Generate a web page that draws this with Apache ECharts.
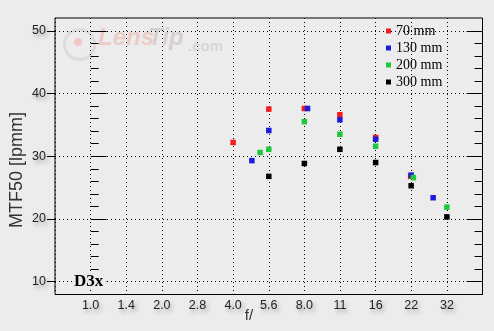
<!DOCTYPE html>
<html><head><meta charset="utf-8">
<script src="https://cdn.jsdelivr.net/npm/echarts@6/dist/echarts.min.js"></script>
<style>html,body{margin:0;padding:0;background:#ececec}#c{width:494px;height:331px}</style>
</head><body><div id="c"></div>
<script>
// f-stop tick labels (equal spacing, 1/2-stop steps of sqrt(2))
var stopLabels = ["1.0","1.4","2.0","2.8","4.0","5.6","8.0","11","16","22","32"];
var seriesNames = ["70 mm","130 mm","200 mm","300 mm"];
var seriesColors = ["#f21c1c","#1c1cdc","#1ec83a","#000000"];
// apertures (f-number) and MTF50 values [lpmm]
var f70 = [4.0, 5.66, 8.0, 11.3, 16, 22.5];
var v70 = [32.2, 37.5, 37.6, 36.6, 33.0, 26.8];
var f130 = [4.8, 5.66, 8.25, 11.3, 16, 22.6, 28];
var v130 = [29.3, 34.1, 37.6, 35.8, 32.7, 27.0, 23.4];
var f200 = [5.2, 5.66, 8.0, 11.3, 16, 23.1, 32];
var v200 = [30.6, 31.1, 35.5, 33.5, 31.6, 26.6, 21.9];
var f300 = [5.66, 8.0, 11.3, 16, 22.6, 32];
var v300 = [26.8, 28.85, 31.1, 29.0, 25.3, 20.35];
var yTicks = [10, 20, 30, 40, 50];

function stops(f){ return 2*Math.log2(f); }
function pts(fs, vs){ return fs.map(function(f,i){ return [stops(f), vs[i]]; }); }
var allData = [pts(f70,v70), pts(f130,v130), pts(f200,v200), pts(f300,v300)];

var shadow = {textShadowColor:'rgba(0,0,0,0.35)', textShadowBlur:4, textShadowOffsetX:2, textShadowOffsetY:3};
var dotted = {show:true, lineStyle:{color:'#000', width:1, type:[1,3]}};
var G = {left:55, right:11.5, top:18, bottom:36.5};
var G2 = {left:55, right:11.5, top:31, bottom:49.5};

var chart = echarts.init(document.getElementById('c'), null, {renderer:'canvas'});
var yBase = {type:'value', gridIndex:1, min:yTicks[0], max:yTicks[yTicks.length-1], interval:10,
  axisLine:{show:false}, splitLine:{show:false}, axisLabel:{show:false}};
chart.setOption({
  backgroundColor:'#ececec',
  animation:false,
  graphic:[
    {type:'circle', left:62, top:27, z:0, shape:{r:15}, style:{fill:'none', stroke:'#dcdcdc', lineWidth:3}},
    {type:'circle', left:74, top:38, z:0, shape:{r:4}, style:{fill:'#efc8c4'}},
    {type:'text', left:98, top:26, z:0, style:{text:'Lens', font:'italic bold 24px "Liberation Sans"', fill:'#eccbc7'}},
    {type:'text', left:148, top:26, z:0, style:{text:'Tip', font:'italic bold 24px "Liberation Sans"', fill:'#d8d0d0'}},
    {type:'text', left:188, top:39, z:0, style:{text:'.com', font:'bold 15px "Liberation Sans"', fill:'#d6d6d6'}},
    {type:'text', left:73, top:273, z:50, style:{text:'D3x', font:'bold 17px "Liberation Serif"', fill:'#000', backgroundColor:'#ececec', padding:[0,3,0,1]}},
    {type:'text', x:17.5, y:170, rotation:Math.PI/2, z:50,
      style:{text:'MTF50 [lpmm]', font:'18px "Liberation Sans"', fill:'#333', align:'center', verticalAlign:'middle'}},
    {type:'text', x:249, y:316, z:50, style:{text:'f/', font:'15px "Liberation Sans"', fill:'#333', align:'center', verticalAlign:'middle'}}
  ],
  grid:[
    Object.assign({show:true, borderColor:'#000', borderWidth:1, backgroundColor:'transparent'}, G),
    Object.assign({show:false}, G2)
  ],
  legend:{
    orient:'vertical', left:381, top:19, itemWidth:5, itemHeight:5, itemGap:3, icon:'rect',
    textStyle:{fontFamily:'"Liberation Serif"', fontSize:14, color:'#000', lineHeight:14},
    data:seriesNames
  },
  xAxis:[
    {type:'value', gridIndex:0, min:-1, max:11, interval:1,
      axisLine:{show:false}, axisTick:{show:false}, splitLine:dotted,
      axisLabel:Object.assign({color:'#222', fontFamily:'"Liberation Sans"', fontSize:12.5, margin:5,
        formatter:function(v){ var i=Math.round(v); return (i>=0 && i<stopLabels.length)? stopLabels[i] : ''; }}, shadow)},
    {type:'value', gridIndex:1, min:-1, max:11, show:false}
  ],
  yAxis:[
    {type:'value', gridIndex:0, min:8, max:52, show:false},
    Object.assign({}, yBase, {position:'left', splitLine:dotted,
      axisTick:{show:true, inside:true, length:16, lineStyle:{color:'#000'}},
      minorTick:{show:true, splitNumber:5, length:8, lineStyle:{color:'#000'}},
      axisLabel:Object.assign({show:true, color:'#222', fontFamily:'"Liberation Sans"', fontSize:12.5, margin:9}, shadow)}),
    Object.assign({}, yBase, {position:'left',
      axisTick:{show:true, inside:false, length:8, lineStyle:{color:'#000'}}}),
    Object.assign({}, yBase, {position:'right',
      axisTick:{show:true, inside:true, length:16, lineStyle:{color:'#000'}},
      minorTick:{show:true, splitNumber:5, length:8, lineStyle:{color:'#000'}}})
  ],
  series: seriesNames.map(function(n,i){
    return {type:'scatter', name:n, xAxisIndex:0, yAxisIndex:0, symbol:'rect', symbolSize:5.5,
      itemStyle:{color:seriesColors[i], opacity:1}, data:allData[i], z:10+i};
  })
});
</script></body></html>
